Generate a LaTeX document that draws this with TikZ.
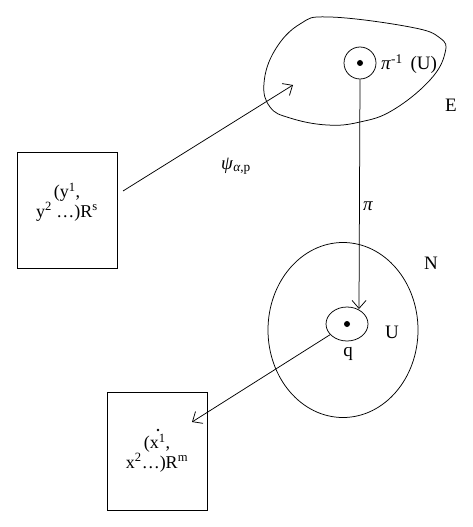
\documentclass[tikz,border=0pt]{standalone}
\usepackage{fontspec}
\setmainfont{Liberation Serif}
\usetikzlibrary{arrows.meta,shapes.geometric}
\tikzset{
  ln/.style={line width=0.75pt, black},
  arr/.style={ln, -{Straight Barb[length=8pt,width=14pt,line width=0.75pt]}},
  lbl/.style={inner sep=0pt, font=\fontsize{19}{22}\selectfont},
  boxtxt/.style={inner sep=0pt, align=center, font=\fontsize{18}{19.5}\selectfont},
  frame/.style={ln, draw, rectangle, inner sep=0pt},
}
\begin{document}
\begin{tikzpicture}[x=1pt,y=-1pt]
\useasboundingbox (0,0) rectangle (473,527);
% blob E
\draw[ln] plot[smooth cycle, tension=0.7] coordinates {(300,24) (330,17) (410,27) (440,38) (445,53) (430,80) (393,110) (360,122) (327,125) (290,118) (270,107) (264,83) (275,50)};
\node[ln, draw, circle, minimum size=32pt, inner sep=0pt] (pin) at (360,63) {};
\fill (pin.center) circle (3pt);
\node[lbl, anchor=west] (pilab) at (381,64) {\textit{π}\textsuperscript{-1}\, (U)};
\node[lbl] (E) at (451,105) {E};
% big ellipse N
\node[ln, draw, ellipse, minimum width=150pt, minimum height=175pt, inner sep=0pt] (Nell) at (343,330) {};
\node[lbl] (N) at (431,263) {N};
\node[ln, draw, ellipse, minimum width=42pt, minimum height=34pt, inner sep=0pt] (qell) at (347,324) {};
\fill (qell.center) circle (3pt);
\node[lbl] (U) at (392,332) {U};
\node[lbl] (q) at (348,354) {q};
% projection arrow
\coordinate (qtop) at (359,309);
\draw[arr] (pin.south) -- (qtop);
\node[lbl] (pi) at (368,206) {\textit{π}};
% box A
\node[frame, minimum width=100pt, minimum height=116pt] (boxA) at (67,210) {};
\node[boxtxt] (txtA) at (67,202) {(y\textsuperscript{1},\\y\textsuperscript{2} \dots)R\textsuperscript{s}};
\coordinate (psistart) at (123,191);
\coordinate (psiend) at (293,85);
\draw[arr] (psistart) -- (psiend);
\node[lbl] (psi) at (236,166) {\textit{ψ}\textsubscript{\textit{α},p}};
% box B
\node[frame, minimum width=100pt, minimum height=118pt] (boxB) at (157,451) {};
\node[boxtxt] (txtB) at (157,453) {(x\textsuperscript{1},\\x\textsuperscript{2}\dots)R\textsuperscript{m}};
\fill (158,430) circle (1.4pt);
\coordinate (btip) at (192,422);
\draw[arr] (qell) -- (btip);
\end{tikzpicture}
\end{document}
